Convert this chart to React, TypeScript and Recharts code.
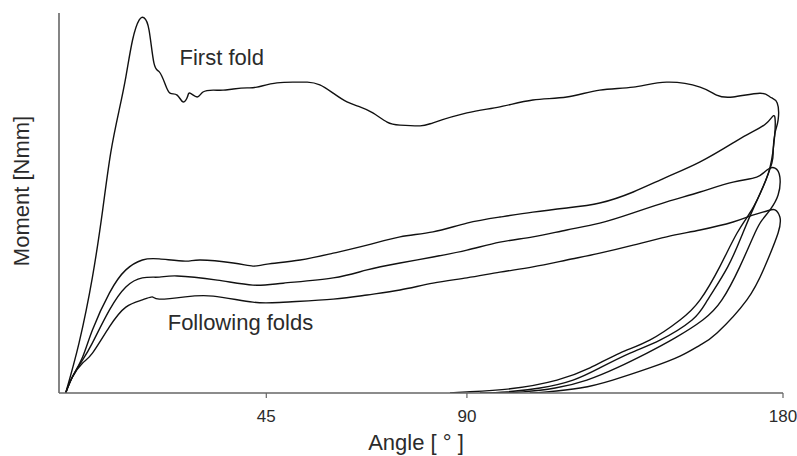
import React from "react";
import { LineChart, Line, XAxis, YAxis, ReferenceDot, Label } from "recharts";

// Angle [deg] (x) vs Moment (y, relative units 0-100)
const firstFold = [
  { x: 0, y: 0 }, { x: 3.0, y: 13.2 }, { x: 6.0, y: 30.5 }, { x: 8.3, y: 48.2 }, { x: 10.1, y: 63.2 },
  { x: 12.0, y: 74.5 }, { x: 13.5, y: 83.2 }, { x: 15.0, y: 92.9 }, { x: 16.5, y: 98.2 }, { x: 17.6, y: 98.7 },
  { x: 18.7, y: 95.5 }, { x: 19.8, y: 86.8 }, { x: 21.0, y: 84.5 }, { x: 22.3, y: 81.3 }, { x: 23.4, y: 78.9 },
  { x: 25.0, y: 78.4 }, { x: 26.3, y: 76.6 }, { x: 27.3, y: 77.9 }, { x: 27.9, y: 78.9 }, { x: 29.5, y: 77.9 },
  { x: 30.8, y: 79.2 }, { x: 33.1, y: 79.7 }, { x: 35.3, y: 79.7 }, { x: 37.6, y: 80.0 }, { x: 40.7, y: 80.3 },
  { x: 42.9, y: 80.5 }, { x: 47.4, y: 81.6 }, { x: 51.9, y: 81.8 }, { x: 54.2, y: 81.8 }, { x: 57.0, y: 81.1 },
  { x: 60.0, y: 78.9 }, { x: 63.1, y: 76.6 }, { x: 66.0, y: 75.3 }, { x: 68.9, y: 73.7 }, { x: 72.1, y: 71.3 },
  { x: 75.0, y: 70.5 }, { x: 79.5, y: 70.3 }, { x: 82.4, y: 71.1 }, { x: 90.0, y: 73.7 }, { x: 97.4, y: 75.3 },
  { x: 104.8, y: 77.1 }, { x: 112.4, y: 77.9 }, { x: 119.8, y: 79.7 }, { x: 127.3, y: 80.5 }, { x: 134.8, y: 81.8 },
  { x: 142.3, y: 80.5 }, { x: 146.0, y: 78.4 }, { x: 149.7, y: 77.9 }, { x: 155.7, y: 78.9 }, { x: 158.0, y: 77.9 },
  { x: 159.6, y: 76.3 }, { x: 159.8, y: 71.8 }, { x: 159.1, y: 68.4 }, { x: 158.7, y: 63.9 }, { x: 158.4, y: 60.5 },
  { x: 156.4, y: 54.2 }, { x: 153.9, y: 48.2 }, { x: 150.6, y: 42.1 }, { x: 146.7, y: 33.2 }, { x: 142.3, y: 24.5 },
  { x: 137.8, y: 19.2 }, { x: 131.0, y: 13.9 }, { x: 124.3, y: 10.5 }, { x: 117.6, y: 6.6 }, { x: 110.2, y: 3.4 },
  { x: 99.7, y: 1.1 }, { x: 90.0, y: 0.3 }, { x: 86.2, y: 0 },
];

const followingFold1 = [
  { x: 0, y: 0 }, { x: 1.5, y: 4.2 }, { x: 3.8, y: 9.5 }, { x: 6.0, y: 16.6 }, { x: 9.8, y: 26.3 },
  { x: 13.5, y: 32.4 }, { x: 17.2, y: 35.0 }, { x: 21.0, y: 35.3 }, { x: 26.8, y: 34.7 }, { x: 30.2, y: 35.0 },
  { x: 37.6, y: 34.2 }, { x: 42.0, y: 33.4 }, { x: 45.2, y: 33.9 }, { x: 52.6, y: 35.0 }, { x: 60.0, y: 36.8 },
  { x: 67.6, y: 38.9 }, { x: 75.0, y: 41.1 }, { x: 82.4, y: 42.4 }, { x: 90.0, y: 44.7 }, { x: 97.4, y: 46.3 },
  { x: 104.8, y: 47.6 }, { x: 112.4, y: 48.7 }, { x: 119.8, y: 50.0 }, { x: 127.3, y: 52.9 }, { x: 134.8, y: 56.8 },
  { x: 142.3, y: 60.8 }, { x: 149.7, y: 65.8 }, { x: 153.5, y: 68.4 }, { x: 157.3, y: 71.1 }, { x: 159.1, y: 72.4 },
  { x: 158.6, y: 63.2 }, { x: 157.1, y: 56.1 }, { x: 154.6, y: 49.5 }, { x: 151.9, y: 42.1 }, { x: 148.5, y: 33.2 },
  { x: 144.0, y: 24.5 }, { x: 140.5, y: 19.2 }, { x: 133.3, y: 13.9 }, { x: 126.6, y: 10.5 }, { x: 119.8, y: 6.6 },
  { x: 113.8, y: 3.4 }, { x: 106.4, y: 1.3 }, { x: 99.0, y: 0.3 }, { x: 92.9, y: 0 },
];

const followingFold2 = [
  { x: 0, y: 0 }, { x: 1.5, y: 4.2 }, { x: 3.8, y: 8.7 }, { x: 6.0, y: 13.2 }, { x: 9.8, y: 21.8 },
  { x: 13.5, y: 27.9 }, { x: 17.2, y: 30.3 }, { x: 21.0, y: 30.5 }, { x: 25.0, y: 30.8 }, { x: 34.0, y: 29.7 },
  { x: 42.0, y: 28.4 }, { x: 48.8, y: 28.9 }, { x: 60.0, y: 30.3 }, { x: 67.6, y: 32.4 }, { x: 75.0, y: 34.2 },
  { x: 82.4, y: 35.8 }, { x: 90.0, y: 37.6 }, { x: 97.4, y: 39.7 }, { x: 104.8, y: 41.1 }, { x: 112.4, y: 42.9 },
  { x: 119.8, y: 44.7 }, { x: 127.3, y: 47.4 }, { x: 134.8, y: 50.3 }, { x: 142.3, y: 52.9 }, { x: 149.7, y: 55.5 },
  { x: 155.0, y: 56.8 }, { x: 157.3, y: 58.7 }, { x: 159.1, y: 59.2 }, { x: 160.2, y: 56.8 }, { x: 159.8, y: 52.1 },
  { x: 158.0, y: 48.2 }, { x: 156.2, y: 45.5 }, { x: 154.6, y: 42.1 }, { x: 151.2, y: 33.2 }, { x: 147.2, y: 24.5 },
  { x: 142.9, y: 19.2 }, { x: 136.7, y: 14.5 }, { x: 130.4, y: 10.5 }, { x: 123.6, y: 6.6 }, { x: 116.9, y: 3.4 },
  { x: 109.8, y: 1.3 }, { x: 102.6, y: 0.3 }, { x: 97.4, y: 0 },
];

const followingFold3 = [
  { x: 0, y: 0 }, { x: 1.5, y: 4.2 }, { x: 3.8, y: 7.9 }, { x: 6.0, y: 10.5 }, { x: 9.8, y: 17.4 },
  { x: 13.5, y: 22.6 }, { x: 17.2, y: 24.5 }, { x: 19.4, y: 25.3 }, { x: 21.0, y: 24.7 }, { x: 26.8, y: 25.3 },
  { x: 33.1, y: 25.5 }, { x: 42.0, y: 23.9 }, { x: 48.8, y: 23.9 }, { x: 60.0, y: 24.7 }, { x: 67.6, y: 25.8 },
  { x: 75.0, y: 27.1 }, { x: 82.4, y: 28.9 }, { x: 90.0, y: 30.3 }, { x: 97.4, y: 31.8 }, { x: 104.8, y: 33.2 },
  { x: 112.4, y: 35.0 }, { x: 119.8, y: 36.8 }, { x: 127.3, y: 38.9 }, { x: 134.8, y: 41.1 }, { x: 142.3, y: 42.9 },
  { x: 149.7, y: 45.0 }, { x: 154.1, y: 46.8 }, { x: 157.3, y: 47.9 }, { x: 159.1, y: 48.2 }, { x: 160.2, y: 46.3 },
  { x: 159.8, y: 42.1 }, { x: 156.8, y: 33.2 }, { x: 152.8, y: 24.5 }, { x: 146.1, y: 15.8 }, { x: 142.3, y: 12.6 },
  { x: 137.8, y: 9.7 }, { x: 131.0, y: 6.6 }, { x: 122.7, y: 3.4 }, { x: 115.4, y: 1.3 }, { x: 107.9, y: 0.3 },
  { x: 104.1, y: 0 },
];

const xTickValues = [45, 90, 160.9];
const xTickLabels = ["45", "90", "180"];

const FONT = "'Liberation Sans', Arial, Helvetica, sans-serif";
const TEXT = "#2b2b2b";
const AXIS = "#666";
const LINE = "#111";

export default function App() {
  const series = [firstFold, followingFold1, followingFold2, followingFold3];
  return (
    <div style={{ position: "absolute", left: 0, top: 0, width: 797, height: 456, background: "#fff" }}>
      <LineChart width={797} height={456} margin={{ top: 13, right: 14, bottom: 0, left: 0 }} style={{ fontFamily: FONT }}>
        <XAxis
          type="number"
          dataKey="x"
          domain={[-1.5, 160.9]}
          allowDataOverflow
          ticks={xTickValues}
          tickFormatter={(v) => xTickLabels[xTickValues.indexOf(v)] ?? String(v)}
          height={63}
          axisLine={{ stroke: AXIS, strokeWidth: 1.6 }}
          tickLine={{ stroke: AXIS, strokeWidth: 1.2 }}
          tickSize={5}
          tickMargin={12}
          tick={{ fill: TEXT, fontSize: 17, fontFamily: FONT }}
        >
          <Label
            content={() => (
              <text x={416} y={450} textAnchor="middle" fill={TEXT} fontSize={22} fontFamily={FONT}>
                Angle [ ° ]
              </text>
            )}
          />
        </XAxis>
        <YAxis
          type="number"
          domain={[0, 100]}
          allowDataOverflow
          ticks={[100]}
          tick={false}
          width={59}
          axisLine={{ stroke: AXIS, strokeWidth: 1.6 }}
          tickLine={{ stroke: AXIS, strokeWidth: 1.2 }}
          tickSize={4}
        >
          <Label
            content={() => (
              <g transform="translate(29,191) rotate(-90)">
                <text x={0} y={0} textAnchor="middle" fill={TEXT} fontSize={22} fontFamily={FONT}>
                  Moment [Nmm]
                </text>
              </g>
            )}
          />
        </YAxis>
        {series.map((d, i) => (
          <Line
            key={i}
            data={d}
            dataKey="y"
            type="natural"
            stroke={LINE}
            strokeWidth={1.4}
            dot={false}
            activeDot={false}
            isAnimationActive={false}
          />
        ))}
        <ReferenceDot
          x={35}
          y={88.4}
          r={0}
          fill="none"
          stroke="none"
          ifOverflow="visible"
          label={{ value: "First fold", position: "center", fill: TEXT, fontSize: 22, fontFamily: FONT }}
        />
        <ReferenceDot
          x={39.2}
          y={18.6}
          r={0}
          fill="none"
          stroke="none"
          ifOverflow="visible"
          label={{ value: "Following folds", position: "center", fill: TEXT, fontSize: 22, fontFamily: FONT }}
        />
      </LineChart>
    </div>
  );
}
